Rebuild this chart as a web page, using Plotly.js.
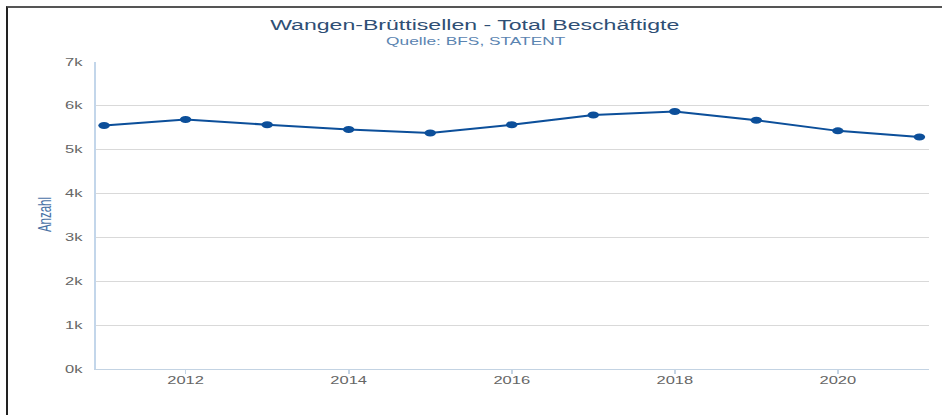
<!DOCTYPE html>
<html>
<head>
<meta charset="utf-8">
<script src="https://cdn.plot.ly/plotly-3.0.1.min.js"></script>
<style>
html,body{margin:0;padding:0;background:#fff;overflow:hidden;width:942px;height:415px;}
#frame{position:absolute;left:6px;top:6px;width:1000px;height:500px;border-top:2px solid #555;border-left:2px solid #222;pointer-events:none;z-index:5;}
#chart{position:absolute;left:0;top:0;width:571px;height:415px;transform:scaleX(1.6497);transform-origin:0 0;}
</style>
</head>
<body>
<div id="chart"></div>
<div id="frame"></div>
<script>
const years = [2011, 2012, 2013, 2014, 2015, 2016, 2017, 2018, 2019, 2020, 2021];
const employees = [5550, 5690, 5570, 5460, 5380, 5570, 5790, 5870, 5670, 5430, 5290];
const yTickVals = [0, 1000, 2000, 3000, 4000, 5000, 6000, 7000];
const yTickText = ['0k', '1k', '2k', '3k', '4k', '5k', '6k', '7k'];
const xTickVals = [2012, 2014, 2016, 2018, 2020];

const trace = {
  x: years,
  y: employees,
  type: 'scatter',
  mode: 'lines+markers',
  line: {color: '#0c4f9a', width: 2},
  marker: {color: '#0c4f9a', size: 7},
  hoverinfo: 'x+y'
};

const layout = {
  width: 571,
  height: 415,
  margin: {l: 57.6, r: 7.9, t: 62, b: 46},
  paper_bgcolor: '#ffffff',
  plot_bgcolor: '#ffffff',
  showlegend: false,
  font: {family: '"Liberation Sans", Arial, sans-serif', color: '#666666', size: 10},
  title: {
    text: 'Wangen-Brüttisellen - Total Beschäftigte',
    font: {family: '"Liberation Sans", Arial, sans-serif', size: 14, color: '#2f4f75'},
    xref: 'container', x: 0.504, xanchor: 'center',
    yref: 'container', y: 1 - 25/415, yanchor: 'middle'
  },
  annotations: [
    {
      text: 'Quelle: BFS, STATENT',
      xref: 'paper', yref: 'paper',
      x: (475 - 95) / 834, y: (369 - 41) / 307,
      xanchor: 'center', yanchor: 'middle',
      showarrow: false,
      font: {family: '"Liberation Sans", Arial, sans-serif', size: 10.5, color: '#5b84b1'}
    },
    {
      text: 'Anzahl',
      xref: 'paper', yref: 'paper',
      x: (44 - 95) / 834, y: (369 - 215) / 307,
      xanchor: 'center', yanchor: 'middle',
      textangle: -90,
      showarrow: false,
      font: {family: '"Liberation Sans", Arial, sans-serif', size: 11.5, color: '#4a72a6'}
    }
  ],
  xaxis: {
    range: [2010.897, 2021.115],
    tickvals: xTickVals,
    ticktext: xTickVals.map(String),
    showgrid: false,
    zeroline: false,
    showline: true,
    linecolor: '#c3d3e3',
    linewidth: 1,
    ticks: 'outside',
    ticklen: 4,
    tickcolor: '#c3d3e3',
    ticklabelstandoff: -2,
    tickfont: {size: 10, color: '#666666'},
    fixedrange: true
  },
  yaxis: {
    range: [0, 7000],
    tickvals: yTickVals,
    ticktext: yTickText,
    showgrid: true,
    gridcolor: '#d9d9d9',
    gridwidth: 1,
    zeroline: false,
    showline: true,
    linecolor: '#c3d6ea',
    linewidth: 1,
    ticks: '',
    ticklabelstandoff: 5,
    tickfont: {size: 10, color: '#666666'},
    fixedrange: true
  }
};

Plotly.newPlot('chart', [trace], layout, {displayModeBar: false, staticPlot: true});
</script>
</body>
</html>
